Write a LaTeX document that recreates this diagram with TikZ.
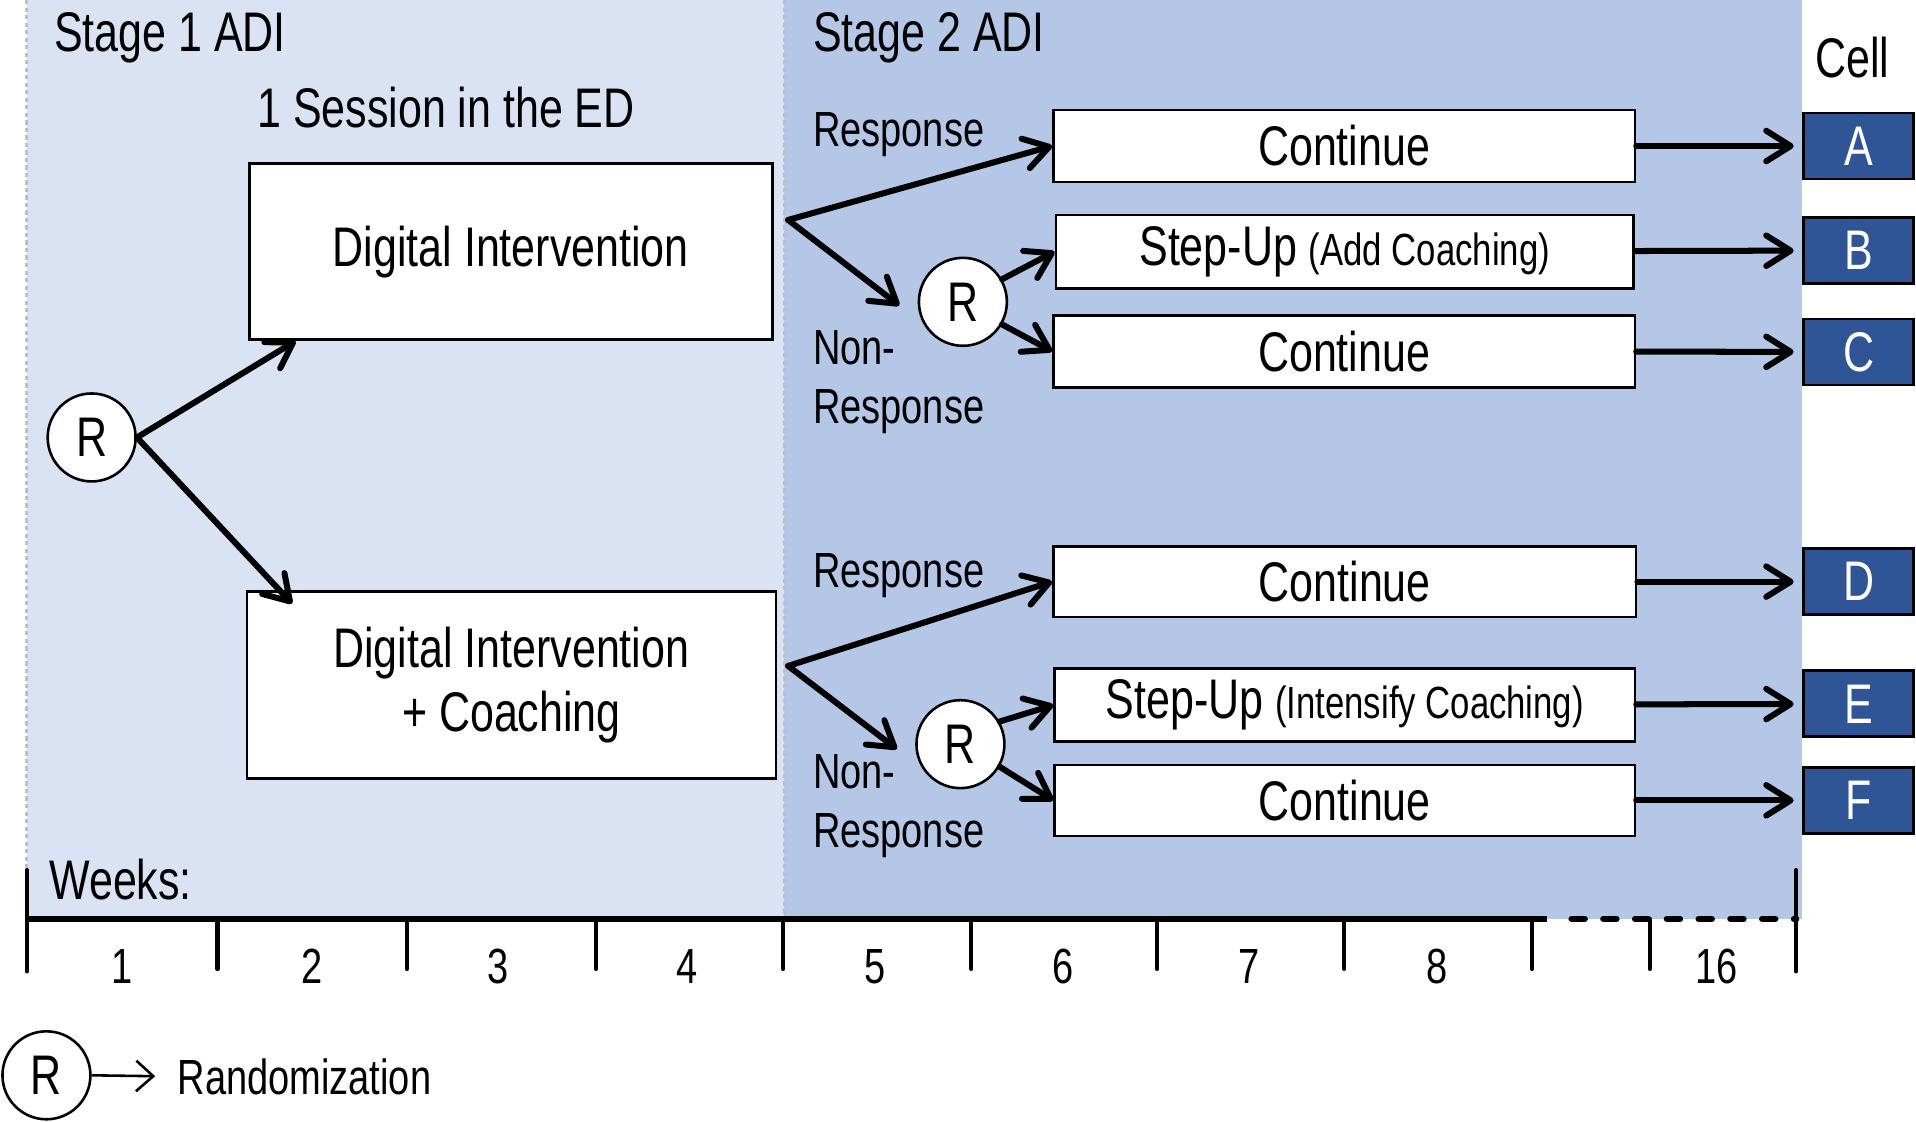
\documentclass[tikz,border=0pt]{standalone}
\usepackage{fontspec}
\setmainfont{Liberation Sans}[FakeStretch=0.77]
\usepackage{xcolor}
\usetikzlibrary{positioning,arrows.meta}

\definecolor{stageone}{RGB}{218,227,243}
\definecolor{stagetwo}{RGB}{180,199,231}
\definecolor{cellblue}{RGB}{47,85,151}

\begin{document}
\begin{tikzpicture}[
    x=0.02cm, y=-0.02cm,
    font=\fontsize{26}{31}\selectfont,
    box/.style={
      rectangle, draw=black, line width=1.2pt, fill=white,
      inner sep=0pt, align=center
    },
    cellbox/.style={
      rectangle, draw=black, line width=1.3pt, fill=cellblue, text=white,
      minimum width=1.8cm, minimum height=1.08cm, inner sep=0pt
    },
    rand/.style={circle, draw=black, line width=1.2pt, fill=white, minimum size=1.44cm, inner sep=0pt},
    arrow/.style={-{Straight Barb[length=0.4cm, width=0.5cm, round]}, line width=2.8pt, line cap=round},
    tick/.style={line width=1.9pt, line cap=round},
    lbl/.style={anchor=west, inner sep=0pt, align=left},
    small/.style={font=\fontsize{23}{27.5}\selectfont},
    sub/.style={font=\fontsize{21}{25}\selectfont}
  ]
  \useasboundingbox (0,0) rectangle (1568,918);

  % Stage panels
  \fill[stageone] (22,0) rectangle (642,752);
  \fill[stagetwo] (642,0) rectangle (1475,752);
  \draw[gray!50, line width=1.5pt, dash pattern=on 2pt off 1.5pt] (22,0) -- (22,712);
  \draw[gray!50, line width=1.5pt, dash pattern=on 2pt off 1.5pt] (642,0) -- (642,752);

  \node[lbl] (stage1) at (44,31) {Stage 1 ADI};
  \node[lbl] (stage2) at (665,31) {Stage 2 ADI};
  \node (session) at (365,88) {1 Session in the ED};
  \node (cell) at (1516,47) {Cell};

  % Stage 1
  \node[rand] (r0) at (75,358) {R};
  \node[box, minimum width=8.56cm, minimum height=2.88cm] (di) at (418,206) {Digital Intervention};
  \node[box, minimum width=8.66cm, minimum height=3.06cm, font=\fontsize{26}{29.6}\selectfont] (dic) at (418.5,560.5) {Digital Intervention\\+ Coaching};

  \draw[arrow] (r0.east) -- ([xshift=0.78cm]di.south west);
  \draw[arrow] (r0.east) -- ([xshift=0.76cm, yshift=-0.22cm]dic.north west);

  % Stage 2, upper branch
  \coordinate (splittop) at (645,180);
  \node[lbl, small] (resptop) at (665,110) {Response};
  \node[lbl, small] (nonresptop) at (665,313) {Non-\\Response};
  \node[rand] (rtop) at (788,247) {R};
  \node[box, minimum width=9.52cm, minimum height=1.18cm] (conta) at (1100,119.5) {Continue};
  \node[box, minimum width=9.46cm, minimum height=1.2cm] (stepb) at (1100.5,206) {Step-Up {\fontsize{21}{25}\selectfont(Add Coaching)}};
  \node[box, minimum width=9.52cm, minimum height=1.18cm] (contc) at (1100,287.5) {Continue};

  \draw[arrow] (splittop) -- (conta.west);
  \draw[arrow] (splittop) -- ([xshift=-0.3cm, yshift=-0.06cm]rtop.west);
  \draw[arrow] (rtop.30) -- (stepb.west);
  \draw[arrow] (rtop.-30) -- (contc.west);

  % Stage 2, lower branch
  \coordinate (splitbot) at (645,545);
  \node[lbl, small] (respbot) at (665,471) {Response};
  \node[lbl, small] (nonrespbot) at (665,660) {Non-\\Response};
  \node[rand] (rbot) at (786,609) {R};
  \node[box, minimum width=9.54cm, minimum height=1.16cm] (contd) at (1100.5,476) {Continue};
  \node[box, minimum width=9.5cm, minimum height=1.2cm] (stepe) at (1100.5,577) {Step-Up {\fontsize{21}{25}\selectfont(Intensify Coaching)}};
  \node[box, minimum width=9.5cm, minimum height=1.16cm] (contf) at (1100.5,655) {Continue};

  \draw[arrow] (splitbot) -- (contd.west);
  \draw[arrow] (splitbot) -- ([xshift=-0.3cm, yshift=-0.08cm]rbot.west);
  \draw[arrow] (rbot.30) -- (stepe.west);
  \draw[arrow] (rbot.-30) -- (contf.west);

  % Cells
  \node[cellbox] (cella) at (1521,119.5) {A};
  \node[cellbox] (cellb) at (1521,205) {B};
  \node[cellbox] (cellc) at (1521,288) {C};
  \node[cellbox] (celld) at (1521,476) {D};
  \node[cellbox] (celle) at (1521,576) {E};
  \node[cellbox] (cellf) at (1521,655) {F};

  \draw[arrow, shorten >=0.14cm] (conta) -- (cella);
  \draw[arrow, shorten >=0.14cm] (stepb) -- (cellb);
  \draw[arrow, shorten >=0.14cm] (contc) -- (cellc);
  \draw[arrow, shorten >=0.14cm] (contd) -- (celld);
  \draw[arrow, shorten >=0.14cm] (stepe) -- (celle);
  \draw[arrow, shorten >=0.14cm] (contf) -- (cellf);

  % Weeks axis
  \node[lbl] (weeks) at (40,720) {Weeks:};
  \draw[line width=2.8pt] (22,752) -- (1266,752);
  \draw[line width=2.8pt, line cap=round, dash pattern=on 0.22cm off 0.3cm] (1286,752) -- (1470,752);
  \draw[tick] (22,712) -- (22,795);
  \draw[tick] (1470,712) -- (1470,795);
  \foreach \x in {178,333,488,641,795,947,1100,1254,1350}
    \draw[tick] (\x,752) -- (\x,793);
  \foreach \x/\n in {100/1,255/2,408/3,562/4,716/5,870/6,1022/7,1176/8,1405/16}
    \node[small] (wk\n) at (\x,791) {\n};

  % Legend
  \node[rand] (rleg) at (38,880) {R};
  \node[lbl, small] (randtxt) at (145,881) {Randomization};
  \draw[-{Straight Barb[length=0.28cm, width=0.5cm]}, line width=1.2pt, shorten >=0.36cm] (rleg.east) -- (randtxt.west);

\end{tikzpicture}
\end{document}
